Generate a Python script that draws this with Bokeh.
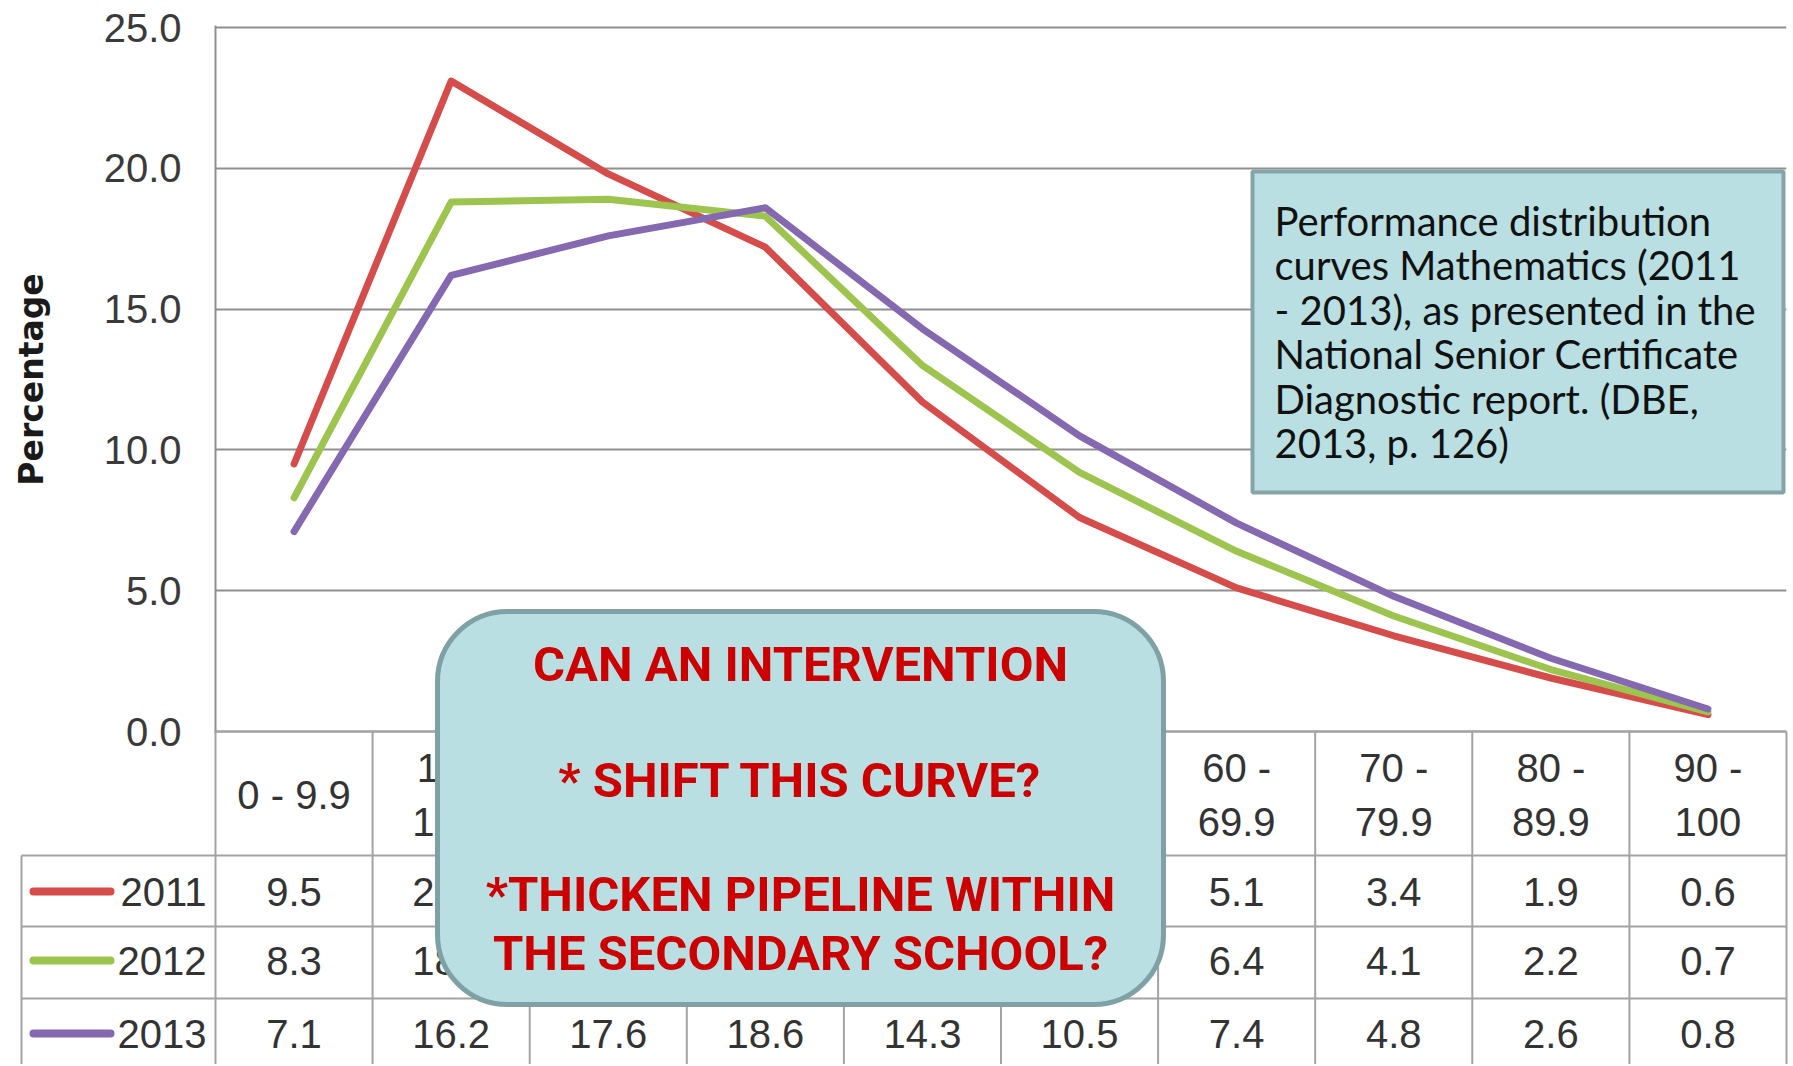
from bokeh.plotting import figure
from bokeh.models import Range1d, FixedTicker, NumeralTickFormatter
from bokeh.core.properties import value
from bokeh.embed import file_html
from bokeh.resources import INLINE

# ---------------- data ----------------
categories = ["0 - 9.9", "10 - 19.9", "20 - 29.9", "30 - 39.9", "40 - 49.9",
              "50 - 59.9", "60 - 69.9", "70 - 79.9", "80 - 89.9", "90 - 100"]
years = ["2011", "2012", "2013"]
pct_2011 = [9.5, 23.1, 19.8, 17.2, 11.7, 7.6, 5.1, 3.4, 1.9, 0.6]
pct_2012 = [8.3, 18.8, 18.9, 18.3, 13.0, 9.2, 6.4, 4.1, 2.2, 0.7]
pct_2013 = [7.1, 16.2, 17.6, 18.6, 14.3, 10.5, 7.4, 4.8, 2.6, 0.8]
y_ticks = [0, 5, 10, 15, 20, 25]
y_label = "Percentage"
note_lines = ["Performance distribution",
              "curves Mathematics (2011",
              "- 2013), as presented in the",
              "National Senior Certificate",
              "Diagnostic report. (DBE,",
              "2013, p. 126)"]
callout_lines = ["CAN AN INTERVENTION", "* SHIFT THIS CURVE?",
                 "*THICKEN PIPELINE WITHIN", "THE SECONDARY SCHOOL?"]

series = [pct_2011, pct_2012, pct_2013]
colors = ["#d44d4b", "#9ec450", "#8468b0"]

# ---------------- layout (pixels) ----------------
W, H = 1790, 1064
FL, FR = 215, 1786
PAD = 2
FT, FB = 27 - PAD, 731 + PAD
n = len(categories)
ppu_y = (FB - FT - 2 * PAD) / 25.0
y_start = -PAD / ppu_y
y_end = 25 + PAD / ppu_y
ppu_x = (FR - FL) / n


def dx(px):
    return -0.5 + (px - FL) / ppu_x


def dy(py):
    return y_end - (py - FT) / ppu_y


FONT = "Liberation Sans"
FS = "40px"
GRID = "#8f8f8f"
TABLE = "#a3a3a3"
TXT = "#333333"

p = figure(width=W, height=H, output_backend="svg", toolbar_location=None,
           x_range=Range1d(-0.5, n - 0.5), y_range=Range1d(y_start, y_end),
           x_axis_location=None,
           min_border_left=FL, min_border_right=W - FR,
           min_border_top=FT, min_border_bottom=H - FB)
p.outline_line_color = None
p.background_fill_color = "white"
p.border_fill_color = "white"
p.xgrid.visible = False
p.ygrid.ticker = FixedTicker(ticks=y_ticks)
p.ygrid.grid_line_color = GRID
p.ygrid.grid_line_width = 2

ax = p.yaxis[0]
ax.ticker = FixedTicker(ticks=y_ticks)
ax.formatter = NumeralTickFormatter(format="0.0")
ax.axis_line_color = GRID
ax.axis_line_width = 2
ax.major_tick_out = 0
ax.major_tick_in = 0
ax.minor_tick_out = 0
ax.minor_tick_in = 0
ax.major_label_standoff = 34
ax.major_label_text_font = FONT
ax.major_label_text_font_size = FS
ax.major_label_text_color = "#3a3a3a"
ax.axis_label = y_label
ax.axis_label_text_font = "DejaVu Sans"
ax.axis_label_text_font_style = "bold"
ax.axis_label_text_font_size = "33px"
ax.axis_label_text_color = "#1a1a1a"
ax.axis_label_standoff = 50

# ---------------- lines ----------------
xs = list(range(n))
for vals, c in zip(series, colors):
    p.line(xs, vals, line_color=c, line_width=7, line_join="round", line_cap="round")

# ---------------- data table ----------------
hdr_bottom = 855
row_bottoms = [926, 998, 1070]
row_centers = [891, 960, 1033]
leg_left = 21
tbl_bottom = 1070

# horizontal lines
h_y = [dy(731)] + [dy(hdr_bottom)] + [dy(b) for b in row_bottoms[:-1]]
h_x0 = [-0.5] + [dx(leg_left)] * 3
p.segment(x0=h_x0, y0=h_y, x1=[n - 0.5] * 4, y1=h_y, line_color=TABLE,
          line_width=2, level="overlay")
# vertical lines
v_x = [k - 0.5 for k in range(n + 1)]
p.segment(x0=v_x, y0=[dy(731)] * (n + 1), x1=v_x, y1=[dy(tbl_bottom)] * (n + 1),
          line_color=TABLE, line_width=2, level="overlay")
p.segment(x0=[dx(leg_left)], y0=[dy(hdr_bottom)], x1=[dx(leg_left)], y1=[dy(tbl_bottom)],
          line_color=TABLE, line_width=2, level="overlay")

# header labels (first fits on one line, the rest wrap after the dash)
single_x, single_t, top_x, top_t, bot_t = [], [], [], [], []
for i, c in enumerate(categories):
    if i == 0:
        single_x.append(i)
        single_t.append(c)
    else:
        a, b = c.split(" - ")
        top_x.append(i)
        top_t.append(a + " -")
        bot_t.append(b)
hdr_kw = dict(text_align="center", text_baseline="middle", text_font=value(FONT),
              text_font_size=FS, text_color=TXT, level="overlay")
p.text(x=single_x, y=[dy(794)] * len(single_x), text=single_t, **hdr_kw)
p.text(x=top_x, y=[dy(767)] * len(top_x), text=top_t, **hdr_kw)
p.text(x=top_x, y=[dy(821)] * len(top_x), text=bot_t, **hdr_kw)

# values
for vals, yc in zip(series, row_centers):
    p.text(x=xs, y=[dy(yc)] * n, text=[f"{v:.1f}" for v in vals], **hdr_kw)

# legend keys
p.segment(x0=[dx(33)] * 3, y0=[dy(c) for c in row_centers],
          x1=[dx(110)] * 3, y1=[dy(c) for c in row_centers],
          line_color=colors, line_width=8, line_cap="round", level="overlay")
p.text(x=[dx(206)] * 3, y=[dy(c) for c in row_centers], text=years,
       text_align="right", text_baseline="middle", text_font=value(FONT),
       text_font_size=FS, text_color=TXT, level="overlay")

# ---------------- note box ----------------
BOX_FILL = "#b9dfe2"
p.quad(left=[dx(1252)], right=[dx(1783)], top=[dy(171)], bottom=[dy(492)],
       fill_color=BOX_FILL, line_color="#86a4a7", line_width=4, level="overlay")
p.text(x=[dx(1274)] * len(note_lines), y=[dy(220 + 44.5 * i) for i in range(len(note_lines))],
       text=note_lines, text_align="left", text_baseline="middle",
       text_font=value("Lato"), text_font_size="40px", text_color="#111111",
       level="overlay")

# ---------------- callout box ----------------
p.quad(left=[dx(437)], right=[dx(1163)], top=[dy(611)], bottom=[dy(1004)],
       border_radius=70, fill_color=BOX_FILL, line_color="#7fa0a4", line_width=5,
       level="overlay")
call_y = [664, 780, 894, 953]
p.text(x=[dx(800)] * len(callout_lines), y=[dy(v) for v in call_y], text=callout_lines,
       text_align="center", text_baseline="middle", text_font=value("Roboto"),
       text_font_style="bold", text_font_size="49px", text_color="#cc0000",
       level="overlay")

open("out.html", "w").write(file_html(p, INLINE))
